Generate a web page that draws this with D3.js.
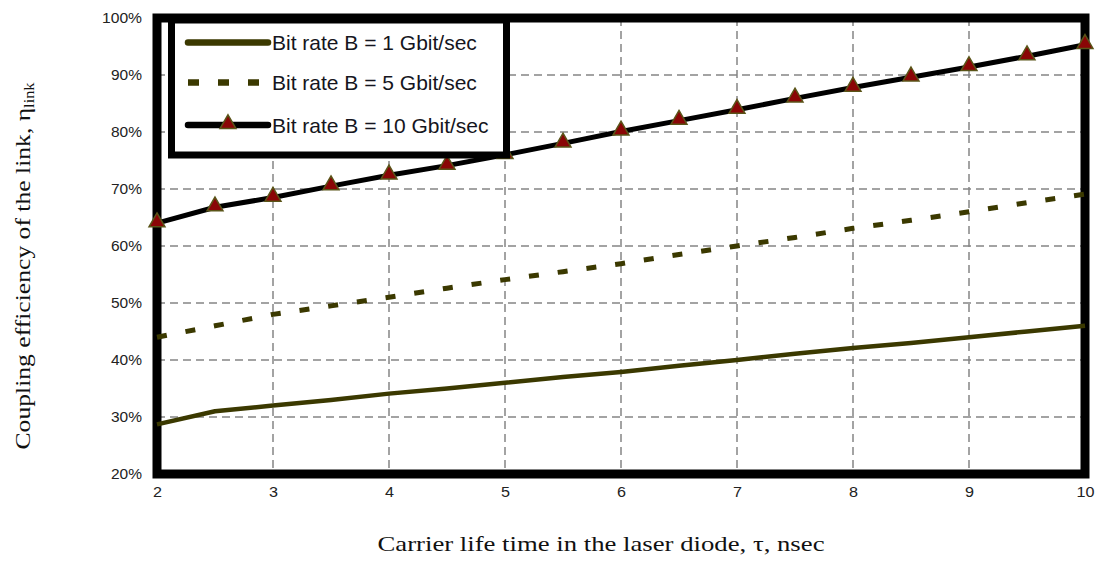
<!DOCTYPE html>
<html>
<head>
<meta charset="utf-8">
<script src="https://cdn.jsdelivr.net/npm/d3@7"></script>
<style>
  html, body { margin: 0; padding: 0; background: #fff; }
  svg { display: block; }
</style>
</head>
<body>
<svg id="chart" width="1098" height="562"></svg>
<script>
// Carrier life time (ns) sampled every half nanosecond
const tau = [2, 2.5, 3, 3.5, 4, 4.5, 5, 5.5, 6, 6.5, 7, 7.5, 8, 8.5, 9, 9.5, 10];

// Coupling efficiency of the link (%) for each bit rate
const eff1G  = [28.7, 31.0, 32.0, 33.0, 34.1, 35.0, 36.0, 37.0, 37.9, 39.0, 40.0, 41.1, 42.1, 43.0, 44.0, 45.0, 46.0];
const eff5G  = [44.0, 46.0, 48.0, 49.5, 51.0, 52.6, 54.1, 55.5, 56.9, 58.5, 60.0, 61.5, 63.1, 64.5, 66.0, 67.6, 69.1];
const eff10G = [64.0, 66.8, 68.5, 70.5, 72.4, 74.1, 76.0, 78.0, 80.1, 82.0, 83.9, 85.9, 87.8, 89.6, 91.4, 93.3, 95.3];

const seriesNames = ["Bit rate B = 1 Gbit/sec", "Bit rate B = 5 Gbit/sec", "Bit rate B = 10 Gbit/sec"];

const xTicks = [2, 3, 4, 5, 6, 7, 8, 9, 10];
const yTicks = [20, 30, 40, 50, 60, 70, 80, 90, 100];

const xTitle = "Carrier life time in the laser diode, \u03c4, nsec";
const yTitle = "Coupling efficiency of the link, \u03b7";
const yTitleSub = "link";

const olive = "#3b3900";
const markerFill = "#8a0606";
const markerStroke = "#5a5418";

const svg = d3.select("#chart");

const x = d3.scaleLinear().domain([2, 10]).range([157, 1085]);
const y = d3.scaleLinear().domain([20, 100]).range([474, 18]);

// Dashed grid
const grid = svg.append("g");
grid.selectAll("line.v").data(xTicks.slice(1, -1)).join("line")
  .attr("x1", d => x(d)).attr("x2", d => x(d))
  .attr("y1", y(100)).attr("y2", y(20))
  .attr("stroke", "#858585").attr("stroke-width", 1.5)
  .attr("stroke-dasharray", "8,5");
grid.selectAll("line.h").data(yTicks.slice(1, -1)).join("line")
  .attr("x1", x(2)).attr("x2", x(10))
  .attr("y1", d => y(d)).attr("y2", d => y(d))
  .attr("stroke", "#858585").attr("stroke-width", 1.5)
  .attr("stroke-dasharray", "8,5");

// Heavy plot frame
svg.append("rect")
  .attr("x", x(2)).attr("y", y(100))
  .attr("width", x(10) - x(2)).attr("height", y(20) - y(100))
  .attr("fill", "none").attr("stroke", "#000").attr("stroke-width", 9);

// Tick labels via D3 axes (domain and tick lines hidden)
const xAxis = svg.append("g")
  .attr("transform", `translate(0,${y(20) + 10})`)
  .call(d3.axisBottom(x).tickValues(xTicks).tickFormat(d3.format("d")).tickSize(0));
xAxis.select(".domain").remove();
xAxis.selectAll("text")
  .attr("font-family", "Liberation Sans, Arial, sans-serif")
  .attr("font-size", 14).attr("fill", "#222")
  .attr("textLength", d => String(d).length * 9)
  .attr("lengthAdjust", "spacingAndGlyphs");

const yAxis = svg.append("g")
  .attr("transform", `translate(${x(2) - 12},0)`)
  .call(d3.axisLeft(y).tickValues(yTicks).tickFormat(d => d + "%").tickSize(0));
yAxis.select(".domain").remove();
yAxis.selectAll("text")
  .attr("font-family", "Liberation Sans, Arial, sans-serif")
  .attr("font-size", 14).attr("fill", "#222")
  .attr("textLength", d => String(d).length === 3 ? 40 : 31)
  .attr("lengthAdjust", "spacingAndGlyphs");

// Series lines
const line = d3.line().x((d, i) => x(tau[i])).y(d => y(d));

svg.append("path").datum(eff1G)
  .attr("d", line).attr("fill", "none")
  .attr("stroke", olive).attr("stroke-width", 4.5)
  .attr("stroke-linejoin", "round");

svg.append("path").datum(eff5G)
  .attr("d", line).attr("fill", "none")
  .attr("stroke", olive).attr("stroke-width", 5)
  .attr("stroke-dasharray", "10,19");

svg.append("path").datum(eff10G)
  .attr("d", line).attr("fill", "none")
  .attr("stroke", "#000").attr("stroke-width", 5)
  .attr("stroke-linejoin", "round");

const tri = d3.symbol().type(d3.symbolTriangle).size(110);
svg.append("g").selectAll("path").data(eff10G).join("path")
  .attr("d", tri)
  .attr("transform", (d, i) => `translate(${x(tau[i])},${y(d) - 1})`)
  .attr("fill", markerFill).attr("stroke", markerStroke).attr("stroke-width", 1.5);

// Legend
const leg = svg.append("g");
leg.append("rect")
  .attr("x", 171.5).attr("y", 20).attr("width", 335).attr("height", 135)
  .attr("fill", "#fff").attr("stroke", "#000").attr("stroke-width", 7);

const rowY = [42.5, 82.5, 125];
const sx0 = 188, sx1 = 268;
leg.append("line").attr("x1", sx0).attr("x2", sx1).attr("y1", rowY[0]).attr("y2", rowY[0])
  .attr("stroke", olive).attr("stroke-width", 6.5).attr("stroke-linecap", "round");
leg.append("line").attr("x1", sx0).attr("x2", sx1).attr("y1", rowY[1]).attr("y2", rowY[1])
  .attr("stroke", olive).attr("stroke-width", 6.5).attr("stroke-dasharray", "11,19");
leg.append("line").attr("x1", sx0).attr("x2", sx1).attr("y1", rowY[2]).attr("y2", rowY[2])
  .attr("stroke", "#000").attr("stroke-width", 6.5).attr("stroke-linecap", "round");
leg.append("path").attr("d", tri)
  .attr("transform", `translate(${(sx0 + sx1) / 2},${rowY[2] - 1})`)
  .attr("fill", markerFill).attr("stroke", markerStroke).attr("stroke-width", 1.5);

leg.selectAll("text").data(seriesNames).join("text")
  .attr("x", 272).attr("y", (d, i) => rowY[i]).attr("dy", "0.36em")
  .attr("font-family", "Liberation Sans, Arial, sans-serif")
  .attr("font-size", 21).attr("fill", "#151520")
  .text(d => d);

// Axis titles
svg.append("text")
  .attr("x", 601).attr("y", 551).attr("text-anchor", "middle")
  .attr("font-family", "Liberation Serif, Times New Roman, serif")
  .attr("font-size", 22).attr("fill", "#111")
  .attr("textLength", 447).attr("lengthAdjust", "spacingAndGlyphs")
  .text(xTitle);

const yt = svg.append("text")
  .attr("transform", "translate(30,266) rotate(-90)")
  .attr("text-anchor", "middle")
  .attr("font-family", "Liberation Serif, Times New Roman, serif")
  .attr("font-size", 22).attr("fill", "#111")
  .attr("textLength", 367).attr("lengthAdjust", "spacingAndGlyphs");
yt.append("tspan").text(yTitle);
yt.append("tspan").attr("font-size", 14).attr("dy", 4).text(yTitleSub);
</script>
</body>
</html>
